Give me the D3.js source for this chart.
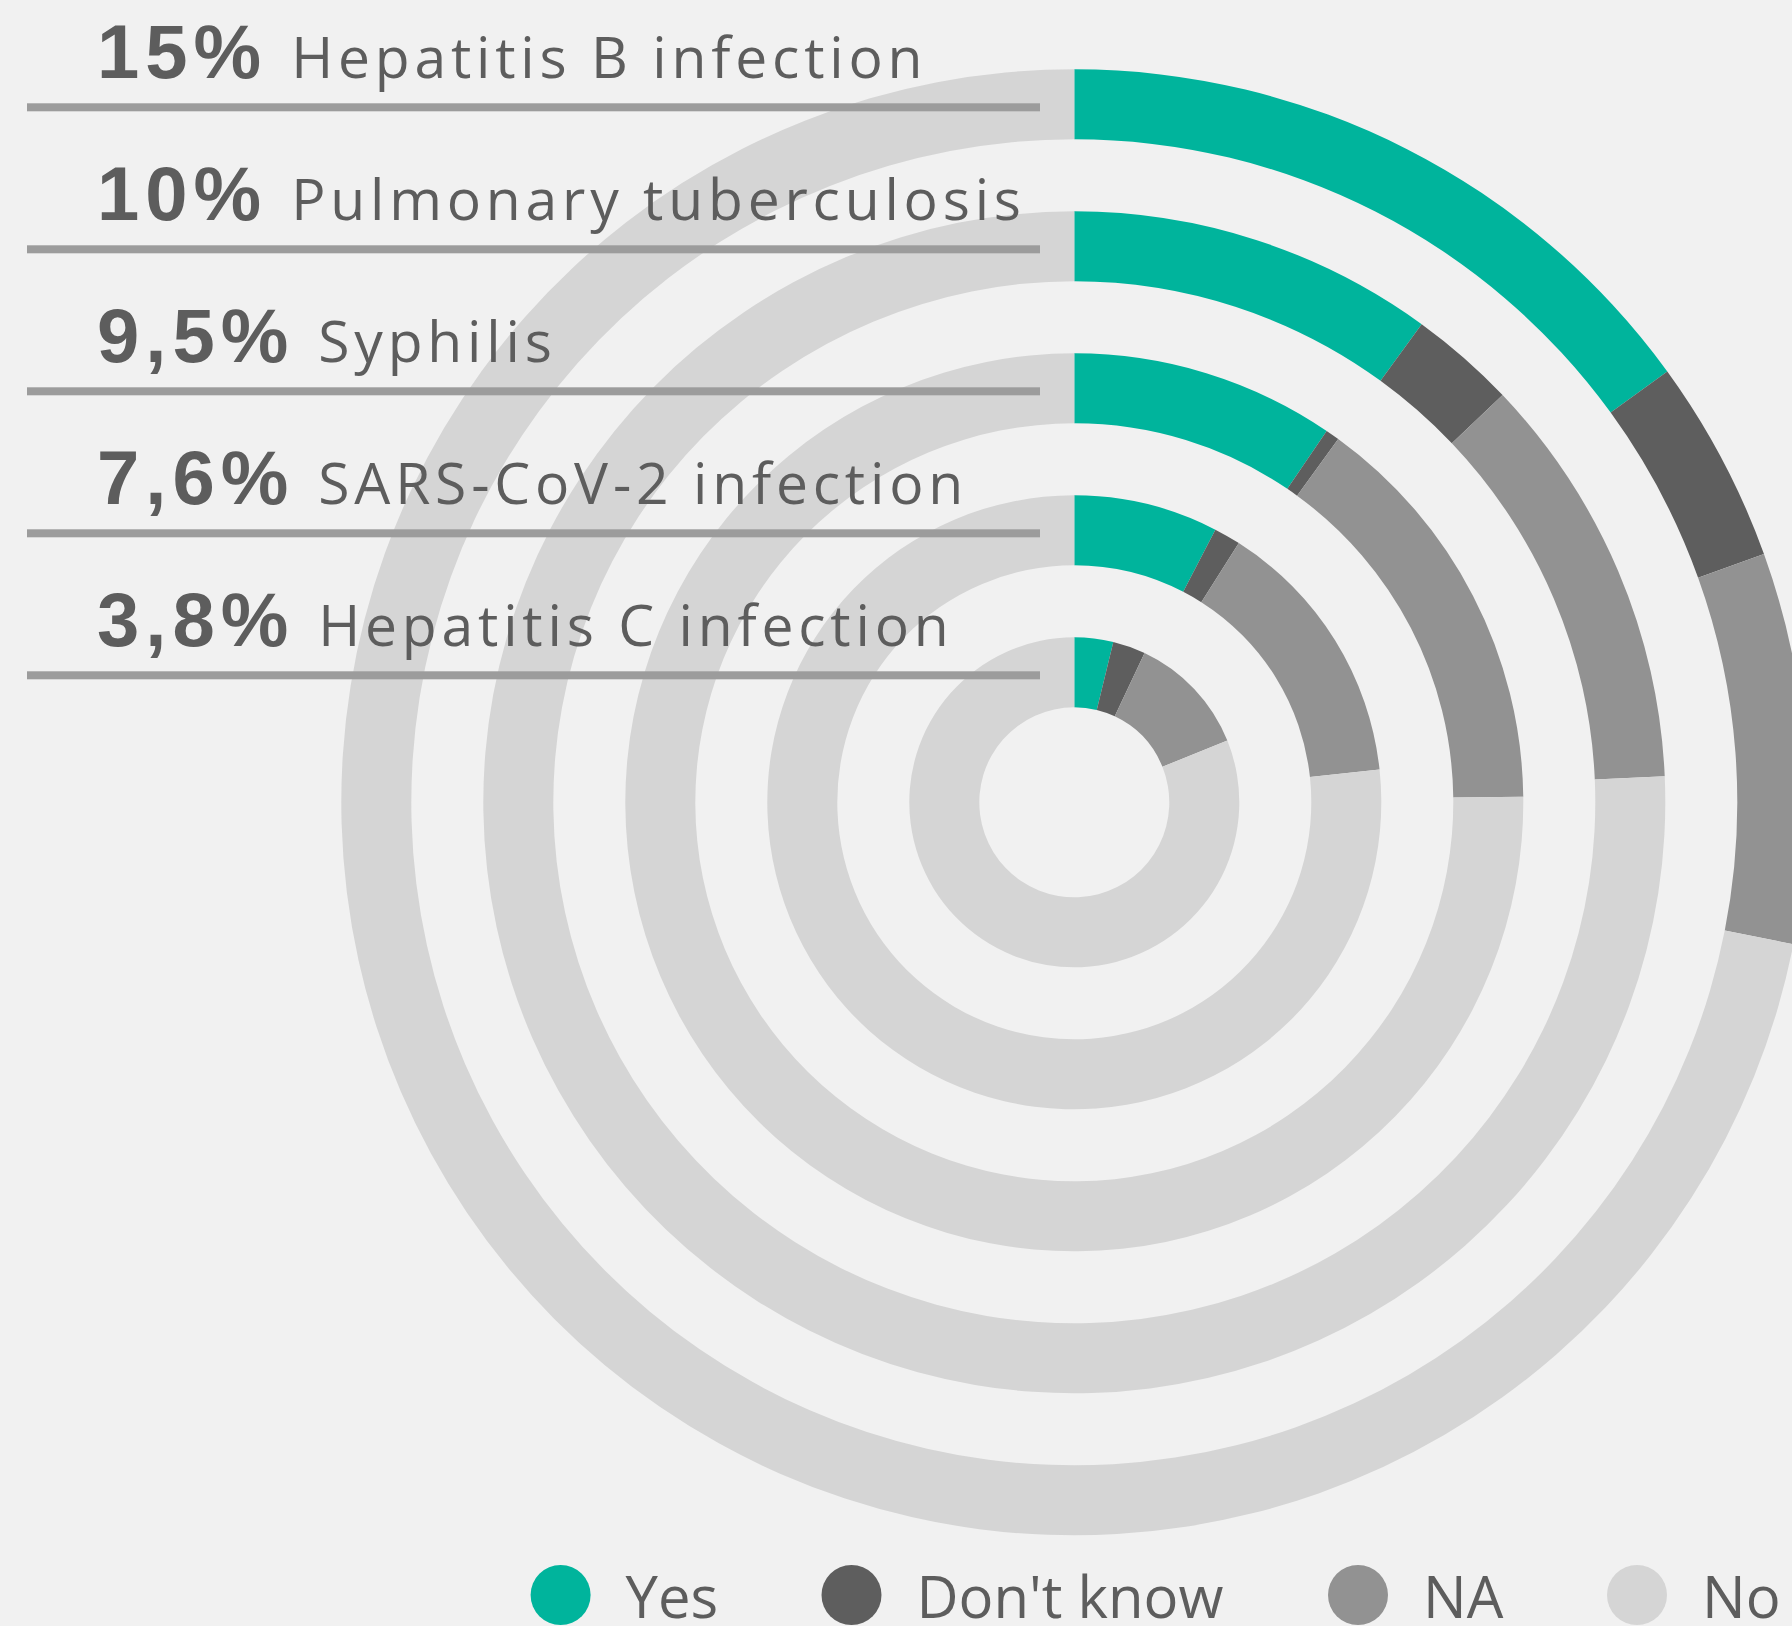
<!DOCTYPE html>
<html>
<head>
<meta charset="utf-8">
<script src="https://cdn.jsdelivr.net/npm/d3@7"></script>
<style>
  html, body { margin: 0; padding: 0; background: #f1f1f1; }
  svg { display: block; }
</style>
</head>
<body>
<script>
// Share of respondents per condition, one ring per condition (outermost first)
const categories = ["Hepatitis B infection", "Pulmonary tuberculosis", "Syphilis", "SARS-CoV-2 infection", "Hepatitis C infection"];
const yesLabels = ["15%", "10%", "9,5%", "7,6%", "3,8%"];
const responses = ["Yes", "Don't know", "NA", "No"];
const yesValues = [15, 10, 9.5, 7.6, 3.8];
const dontKnowValues = [4.5, 2.9, 0.5, 1.4, 3.2];
const naValues = [8.6, 11.4, 14.8, 14.3, 11.9];
const noValues = [71.9, 75.7, 75.2, 76.7, 81.1];

const W = 1792, H = 1626;
const cx = 1074.3, cy = 802.3;

const svg = d3.select("body").append("svg")
  .attr("width", W).attr("height", H)
  .style("background", "#f1f1f1");

const color = d3.scaleOrdinal()
  .domain(responses)
  .range(["#00b49c", "#5e5e5e", "#929292", "#d5d5d5"]);

// Radial bands: innermost ring is the last category
const ring = d3.scaleBand()
  .domain(categories.slice().reverse())
  .range([95, 733])
  .paddingInner(0.507)
  .paddingOuter(0);

const rows = categories.map((c, i) => ({
  category: c,
  label: yesLabels[i],
  values: [yesValues[i], dontKnowValues[i], naValues[i], noValues[i]]
}));

const pie = d3.pie().sort(null).value(d => d.value)
  .startAngle(0).endAngle(2 * Math.PI);

const chart = svg.append("g").attr("transform", `translate(${cx},${cy})`);

rows.forEach(row => {
  const inner = ring(row.category);
  const outer = inner + ring.bandwidth();
  const arc = d3.arc().innerRadius(inner).outerRadius(outer);
  const slices = pie(responses.map((r, j) => ({ key: r, value: row.values[j] })));
  chart.append("g").selectAll("path")
    .data(slices)
    .join("path")
    .attr("d", arc)
    .attr("fill", d => color(d.data.key));
});

// Label rows: rule line through the middle of each ring's top, text above it
const labels = svg.append("g");
rows.forEach(row => {
  const inner = ring(row.category);
  const mid = inner + ring.bandwidth() / 2;
  const lineY = cy - mid + 3;
  labels.append("rect")
    .attr("x", 27).attr("y", lineY - 4)
    .attr("width", 1040 - 27).attr("height", 8)
    .attr("fill", "#9c9c9c");
  const t = labels.append("text")
    .attr("x", 97).attr("y", lineY - 29)
    .attr("fill", "#5d5d5d");
  t.append("tspan")
    .attr("font-family", "'Liberation Sans', Arial, sans-serif")
    .attr("font-weight", "bold")
    .attr("font-size", 76)
    .attr("letter-spacing", 6)
    .text(row.label);
  t.append("tspan")
    .attr("dx", 24)
    .attr("font-family", "'Open Sans', sans-serif")
    .attr("font-size", 57)
    .attr("letter-spacing", 4.8)
    .text(row.category);
});

// Legend
const legendX = [560.6, 851.5, 1358, 1637];
const legend = svg.append("g");
responses.forEach((r, i) => {
  const g = legend.append("g").attr("transform", `translate(${legendX[i]},1595)`);
  g.append("circle").attr("r", 30).attr("fill", color(r));
  g.append("text")
    .attr("x", 65).attr("y", 23)
    .attr("font-family", "'Open Sans', sans-serif")
    .attr("font-size", 58)
    .attr("fill", "#5d5d5d")
    .text(r);
});
</script>
</body>
</html>
